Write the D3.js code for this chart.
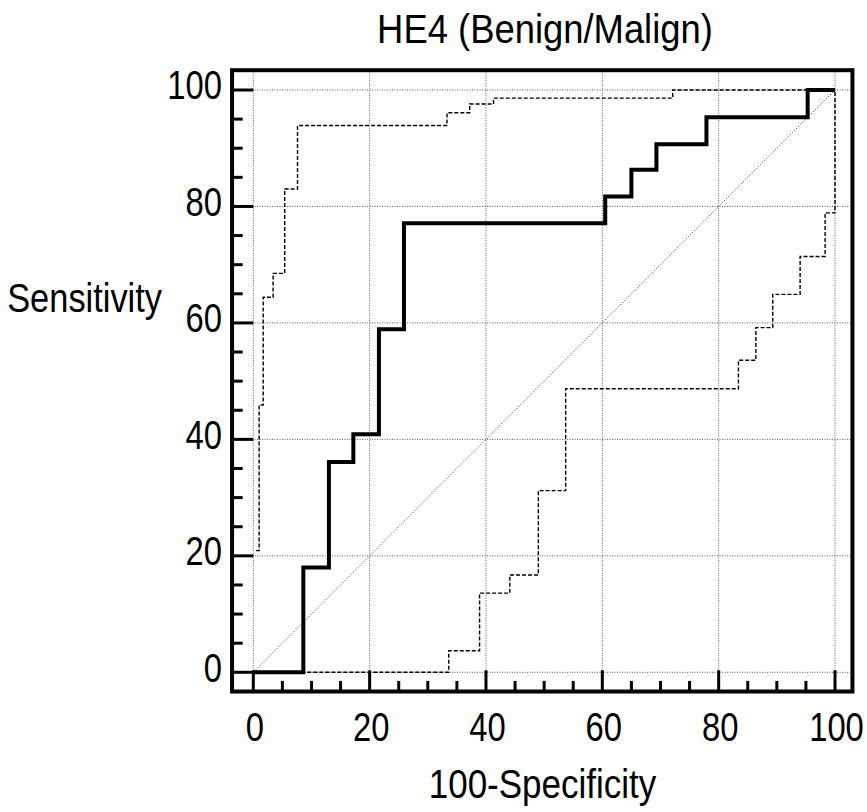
<!DOCTYPE html>
<html>
<head>
<meta charset="utf-8">
<script src="https://cdn.jsdelivr.net/npm/d3@7"></script>
<style>
  body { margin: 0; background: #fff; }
  svg text { font-family: "Liberation Sans", Arial, sans-serif; fill: #000; }
</style>
</head>
<body>
<script>
// ROC curve (100-specificity, sensitivity), step points
const rocFpr = [0, 8.6, 13.0, 17.2, 21.6, 25.9, 60.5, 65.0, 69.3, 77.9, 95.3, 100];
const rocTpr = [0, 18.0, 36.1, 40.9, 58.9, 77.1, 81.7, 86.3, 90.7, 95.3, 100, 100];

// upper confidence bound
const upperFpr = [0.5, 1.0, 1.7, 3.4, 5.4, 7.6, 33.3, 37.2, 41.3, 72.1, 100];
const upperTpr = [20.9, 45.9, 64.4, 68.5, 83.0, 93.9, 96.1, 97.6, 98.6, 100, 100];

// lower confidence bound
const lowerFpr = [0, 33.6, 38.9, 44.1, 49.0, 53.7, 83.4, 86.4, 89.3, 94.0, 98.3, 100];
const lowerTpr = [0, 3.7, 13.6, 16.7, 31.2, 48.7, 53.6, 59.2, 64.9, 71.4, 78.9, 100];

const majorTicks = [0, 20, 40, 60, 80, 100];
const minorTicks = d3.range(0, 101, 5).filter(v => v % 20 !== 0);

const width = 867, height = 812;
const svg = d3.select("body").append("svg")
    .attr("width", width)
    .attr("height", height);

const x = d3.scaleLinear().domain([0, 100]).range([253.3, 835]);
const y = d3.scaleLinear().domain([0, 100]).range([672.3, 90]);

// frame corners in data units
const x0 = x(-3.65), x1 = x(103.0);
const y0 = y(-3.3), y1 = y(103.4);

const gridStyle = (sel) => {
    sel.style("stroke", "#555")
        .style("stroke-width", 1)
        .style("stroke-dasharray", "1,1.5");
};

// grid
svg.selectAll("line.vgrid")
    .data(majorTicks)
    .enter()
    .append("line")
    .attr("x1", d => x(d)).attr("x2", d => x(d))
    .attr("y1", y1).attr("y2", y0)
    .call(gridStyle);

svg.selectAll("line.hgrid")
    .data(majorTicks)
    .enter()
    .append("line")
    .attr("y1", d => y(d)).attr("y2", d => y(d))
    .attr("x1", x0).attr("x2", x1)
    .call(gridStyle);

// diagonal reference line
svg.append("line")
    .attr("x1", x(0)).attr("y1", y(0))
    .attr("x2", x(100)).attr("y2", y(100))
    .style("stroke", "#666")
    .style("stroke-width", 1)
    .style("stroke-dasharray", "1.5,1.5");

const stepLine = d3.line()
    .x(d => x(d[0]))
    .y(d => y(d[1]))
    .curve(d3.curveStepAfter);

const upper = d3.zip(upperFpr, upperTpr);
const lower = d3.zip(lowerFpr, lowerTpr);
const roc = d3.zip(rocFpr, rocTpr);

[upper, lower].forEach(pts => {
    svg.append("path")
        .attr("d", stepLine(pts))
        .style("fill", "none")
        .style("stroke", "#000")
        .style("stroke-width", 1.4)
        .style("stroke-dasharray", "4,2");
});

svg.append("path")
    .attr("d", stepLine(roc))
    .style("fill", "none")
    .style("stroke", "#000")
    .style("stroke-width", 4)
    .style("stroke-linejoin", "miter");

// frame
svg.append("rect")
    .attr("x", x0).attr("y", y1)
    .attr("width", x1 - x0).attr("height", y0 - y1)
    .style("fill", "none")
    .style("stroke", "#000")
    .style("stroke-width", 4);

// ticks, drawn inward
const majorLen = x(0) - x0, minorLen = majorLen / 2;

svg.selectAll("line.ytick")
    .data(majorTicks.concat(minorTicks))
    .enter()
    .append("line")
    .attr("x1", x0)
    .attr("x2", d => x0 + (d % 20 === 0 ? majorLen : minorLen))
    .attr("y1", d => y(d)).attr("y2", d => y(d))
    .style("stroke", "#000")
    .style("stroke-width", 3);

svg.selectAll("line.xtick")
    .data(majorTicks.concat(minorTicks))
    .enter()
    .append("line")
    .attr("x1", d => x(d)).attr("x2", d => x(d))
    .attr("y1", y0)
    .attr("y2", d => y0 - (d % 20 === 0 ? majorLen : minorLen))
    .style("stroke", "#000")
    .style("stroke-width", 3);

// narrow text: no condensed font installed, so squeeze horizontally
function label(g, tx, ty, anchor, str, sx) {
    g.append("text")
        .attr("transform", `translate(${tx},${ty}) scale(${sx},1)`)
        .attr("text-anchor", anchor)
        .style("font-size", "40px")
        .text(str);
}

const labels = svg.append("g");
majorTicks.forEach(d => label(labels, 222, y(d) + 9.4, "end", d, 0.82));
majorTicks.forEach(d => label(labels, x(d) + 1.5, 741, "middle", d, 0.82));

// titles
label(labels, 545, 43, "middle", "HE4 (Benign/Malign)", 0.91);
label(labels, 542.5, 798, "middle", "100-Specificity", 0.875);
label(labels, 162, 312, "end", "Sensitivity", 0.86);
</script>
</body>
</html>
